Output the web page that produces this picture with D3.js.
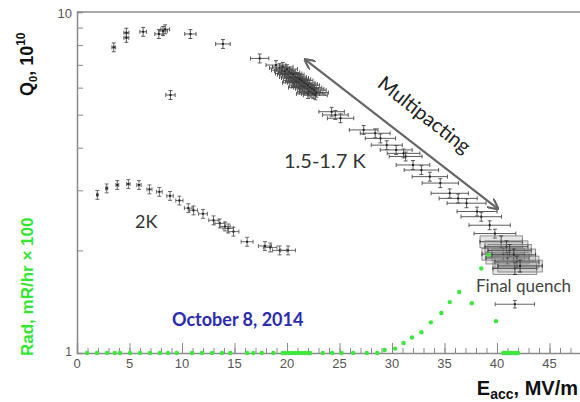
<!DOCTYPE html>
<html>
<head>
<meta charset="utf-8">
<script src="https://cdn.jsdelivr.net/npm/d3@7"></script>
<style>
  body { margin: 0; background: #fff; }
  svg { display: block; }
</style>
</head>
<body>
<div id="output"></div>
<script>
// 1.5-1.7 K run (E_acc in MV/m, Q0 in 1e10)
var coldE = [3.5, 4.7, 4.7, 6.3, 7.8, 8.2, 8.4, 10.8, 13.9, 8.9, 17.4, 18.95,
  19.3, 19.5, 19.6, 19.8, 19.9, 20.0, 20.1, 20.2, 20.3, 20.4, 20.5, 20.6, 20.6, 20.7, 20.8, 20.9,
  21.0, 21.1, 21.2, 21.2, 21.3, 21.4, 21.5, 21.6, 21.7, 21.8, 21.9, 22.0, 22.0, 22.1, 22.2,
  22.3, 22.4, 22.5, 22.6, 22.7, 22.8,
  24.25, 24.6, 25.1, 27.3, 28.4, 28.9, 29.5, 30.4, 31.1, 31.3, 32.0, 32.8, 33.6, 34.6,
  35.5, 36.3, 37.1, 38.1, 38.5, 39.3, 39.8];
var coldQ = [7.88, 8.7, 8.4, 8.75, 8.62, 8.8, 8.9, 8.62, 8.06, 5.71, 7.31, 6.99,
  6.85, 6.75, 6.9, 6.7, 6.6, 6.8, 6.55, 6.65, 6.45, 6.6, 6.4, 6.55, 6.2, 6.3, 6.45, 6.25,
  6.4, 6.2, 6.35, 6.0, 6.1, 6.3, 6.05, 6.2, 6.0, 6.15, 5.95, 6.1, 5.75, 5.85, 6.0,
  5.8, 5.95, 5.75, 5.9, 5.7, 5.8,
  5.10, 4.99, 4.88, 4.51, 4.41, 4.26, 4.07, 3.94, 3.85, 3.77, 3.56, 3.44, 3.29, 3.15,
  2.94, 2.84, 2.75, 2.60, 2.51, 2.37, 2.24];

// points near the quench (drawn with grey error boxes)
var quenchE = [40.4, 40.6, 40.9, 41.0, 41.2, 41.6, 41.9, 41.7, 42.2];
var quenchQ = [2.12, 1.95, 2.05, 1.90, 2.00, 1.94, 1.85, 1.77, 1.80];

// final quench point
var finalE = [41.7];
var finalQ = [1.39];

// 2 K run
var warmE = [1.94, 2.83, 3.84, 4.89, 5.9, 6.9, 7.84, 8.86, 9.75, 10.6, 11.1, 12.0, 13.0,
  13.6, 14.1, 14.4, 14.9, 16.2, 17.9, 18.4, 19.3, 20.1];
var warmQ = [2.91, 3.04, 3.11, 3.13, 3.11, 3.02, 2.97, 2.89, 2.80, 2.66, 2.62, 2.56, 2.45,
  2.40, 2.35, 2.32, 2.27, 2.12, 2.06, 2.04, 2.00, 2.00];

// radiation, mR/hr x 100
var radE = [0.95, 1.9, 2.86, 3.6, 4.1, 5.05, 6.0, 6.95, 7.9, 8.67, 9.5, 10.95, 11.9, 12.86,
  13.8, 14.6, 16.2, 16.8, 17.6, 18.7, 19.6, 19.9, 20.2, 20.5, 20.8, 21.1, 21.4, 21.7, 22.0,
  22.2, 23.4, 24.3, 25.2, 26.3, 27.6, 28.6,
  29.3, 30.3, 31.1, 31.9, 32.8, 33.7, 34.7, 35.5, 36.4, 37.6, 38.5, 39.2, 39.9,
  40.6, 40.8, 41.0, 41.2, 41.4, 41.6, 41.8, 42.0];
var radR = [1, 1, 1, 1, 1, 1, 1, 1, 1, 1, 1, 1, 1, 1,
  1, 1, 1, 1, 1, 1, 1, 1, 1, 1, 1, 1, 1, 1, 1,
  1, 1, 1, 1, 1, 1, 1,
  1.02, 1.03, 1.07, 1.11, 1.15, 1.23, 1.31, 1.41, 1.51, 1.40, 1.77, 1.94, 1.24,
  1, 1, 1, 1, 1, 1, 1, 1];

var xTicks = [0, 5, 10, 15, 20, 25, 30, 35, 40, 45];

var width = 580;
var height = 402;

var svg = d3.select('#output')
  .append('svg')
  .attr('width', width)
  .attr('height', height);

var x = d3.scaleLinear().domain([0, 48]).range([77, 581]);
var y = d3.scaleLog().domain([1, 10]).range([353, 12]);

var axisColor = '#8a8a8a';

// frame: top line
svg.append('line').attr('x1', x(0)).attr('x2', 580).attr('y1', y(10)).attr('y2', y(10))
  .attr('stroke', axisColor).attr('stroke-width', 1.5);

// y axis (log minor ticks inside)
var yAxis = d3.axisRight(y)
  .tickValues([2, 3, 4, 5, 6, 7, 8, 9])
  .tickSize(6)
  .tickFormat('');
var gy = svg.append('g').attr('transform', 'translate(' + x(0) + ',0)').call(yAxis);
gy.select('.domain').attr('stroke', axisColor).attr('stroke-width', 1.5);
gy.selectAll('.tick line').attr('stroke', axisColor);

// x axis: minor ticks then major ticks
var gxMinor = svg.append('g').attr('transform', 'translate(0,' + y(1) + ')')
  .call(d3.axisTop(x).tickValues(d3.range(0, 48)).tickSize(5).tickFormat(''));
gxMinor.select('.domain').remove();
gxMinor.selectAll('.tick line').attr('stroke', axisColor);

var gx = svg.append('g').attr('transform', 'translate(0,' + y(1) + ')')
  .call(d3.axisTop(x).tickValues(xTicks).tickSize(10).tickFormat(''));
gx.select('.domain').attr('stroke', axisColor).attr('stroke-width', 1.5);
gx.selectAll('.tick line').attr('stroke', axisColor);

svg.selectAll('.xlab')
  .data(xTicks)
  .enter()
  .append('text')
  .attr('x', (d) => x(d))
  .attr('y', y(1) + 15)
  .attr('text-anchor', 'middle')
  .attr('font-family', 'Liberation Sans, Arial, sans-serif')
  .attr('font-size', 13)
  .attr('fill', '#555')
  .text((d) => d);

svg.append('text').attr('x', 72).attr('y', y(10) + 6).attr('text-anchor', 'end')
  .attr('font-family', 'Liberation Sans, Arial, sans-serif').attr('font-size', 13).attr('fill', '#555')
  .text('10');
svg.append('text').attr('x', 72).attr('y', y(1) + 3).attr('text-anchor', 'end')
  .attr('font-family', 'Liberation Sans, Arial, sans-serif').attr('font-size', 12).attr('fill', '#555')
  .text('1');

// axis titles
var qTitle = svg.append('text')
  .attr('transform', 'translate(33,96) rotate(-90)')
  .attr('font-family', 'Liberation Sans, Arial, sans-serif')
  .attr('font-weight', 'bold')
  .attr('font-size', 18)
  .attr('fill', '#111');
qTitle.append('tspan').text('Q');
qTitle.append('tspan').attr('font-size', 11).attr('dy', 4).text('0');
qTitle.append('tspan').attr('dy', -4).text(', 10');
qTitle.append('tspan').attr('font-size', 12).attr('dy', -8).text('10');

svg.append('text')
  .attr('transform', 'translate(33,356) rotate(-90)')
  .attr('font-family', 'Liberation Sans, Arial, sans-serif')
  .attr('font-weight', 'bold')
  .attr('font-size', 17)
  .attr('fill', '#33e633')
  .text('Rad, mR/hr \u00d7 100');

var eTitle = svg.append('text')
  .attr('x', 578).attr('y', 395)
  .attr('text-anchor', 'end')
  .attr('font-family', 'Liberation Sans, Arial, sans-serif')
  .attr('font-weight', 'bold')
  .attr('font-size', 20)
  .attr('fill', '#111');
eTitle.append('tspan').text('E');
eTitle.append('tspan').attr('font-size', 14).attr('dy', 4).text('acc');
eTitle.append('tspan').attr('dy', -4).text(', MV/m');

// error-bar crosses
var relE = 0.05;
var relQ = 0.03;

function drawSeries(xs, qs, eFrac, qFrac, color, box) {
  var g = svg.append('g');
  var pts = xs.map((e, i) => ({e: e, q: qs[i]}));
  var sel = g.selectAll('g').data(pts).enter().append('g');
  if (box) {
    sel.append('rect')
      .attr('x', (d) => x(d.e * (1 - eFrac)))
      .attr('y', (d) => y(d.q * (1 + qFrac)))
      .attr('width', (d) => x(d.e * (1 + eFrac)) - x(d.e * (1 - eFrac)))
      .attr('height', (d) => y(d.q * (1 - qFrac)) - y(d.q * (1 + qFrac)))
      .attr('fill', '#999')
      .attr('fill-opacity', 0.25)
      .attr('stroke', '#777')
      .attr('stroke-width', 0.8);
  }
  sel.append('line')
    .attr('x1', (d) => x(d.e * (1 - eFrac))).attr('x2', (d) => x(d.e * (1 + eFrac)))
    .attr('y1', (d) => y(d.q)).attr('y2', (d) => y(d.q));
  sel.append('line')
    .attr('x1', (d) => x(d.e)).attr('x2', (d) => x(d.e))
    .attr('y1', (d) => y(d.q * (1 + qFrac))).attr('y2', (d) => y(d.q * (1 - qFrac)));
  // caps
  sel.append('line')
    .attr('x1', (d) => x(d.e * (1 - eFrac))).attr('x2', (d) => x(d.e * (1 - eFrac)))
    .attr('y1', (d) => y(d.q) - 2).attr('y2', (d) => y(d.q) + 2);
  sel.append('line')
    .attr('x1', (d) => x(d.e * (1 + eFrac))).attr('x2', (d) => x(d.e * (1 + eFrac)))
    .attr('y1', (d) => y(d.q) - 2).attr('y2', (d) => y(d.q) + 2);
  sel.append('line')
    .attr('x1', (d) => x(d.e) - 2).attr('x2', (d) => x(d.e) + 2)
    .attr('y1', (d) => y(d.q * (1 + qFrac))).attr('y2', (d) => y(d.q * (1 + qFrac)));
  sel.append('line')
    .attr('x1', (d) => x(d.e) - 2).attr('x2', (d) => x(d.e) + 2)
    .attr('y1', (d) => y(d.q * (1 - qFrac))).attr('y2', (d) => y(d.q * (1 - qFrac)));
  sel.selectAll('line').attr('stroke', color).attr('stroke-width', 0.9);
  sel.append('rect')
    .attr('x', (d) => x(d.e) - 1).attr('y', (d) => y(d.q) - 1)
    .attr('width', 2).attr('height', 2)
    .attr('fill', '#222');
}

drawSeries(warmE, warmQ, 0.035, relQ, '#5a5a5a', false);
drawSeries(coldE, coldQ, relE, relQ, '#4a4a4a', false);
drawSeries(quenchE, quenchQ, relE, 0.04, '#333', true);
drawSeries(finalE, finalQ, 0.045, 0.025, '#555', false);

// radiation dots
svg.selectAll('.rad')
  .data(radE.map((e, i) => ({e: e, r: radR[i]})))
  .enter()
  .append('circle')
  .attr('cx', (d) => x(d.e))
  .attr('cy', (d) => y(d.r))
  .attr('r', 2.2)
  .attr('fill', '#3de83d');

// multipacting arrow
var defs = svg.append('defs');
defs.append('marker')
  .attr('id', 'head')
  .attr('viewBox', '0 0 10 10')
  .attr('refX', 8).attr('refY', 5)
  .attr('markerWidth', 5).attr('markerHeight', 5)
  .attr('orient', 'auto-start-reverse')
  .append('path')
  .attr('d', 'M0,0 L10,5 L0,10')
  .attr('fill', 'none')
  .attr('stroke', '#666')
  .attr('stroke-width', 2);

var arrowE = [21.8, 40.0];
var arrowQ = [7.22, 2.66];
svg.append('line')
  .attr('x1', x(arrowE[0])).attr('y1', y(arrowQ[0]))
  .attr('x2', x(arrowE[1])).attr('y2', y(arrowQ[1]))
  .attr('stroke', '#666')
  .attr('stroke-width', 2.2)
  .attr('marker-start', 'url(#head)')
  .attr('marker-end', 'url(#head)');

// annotations
var noteFont = 'Lato, Open Sans, sans-serif';
svg.append('text')
  .attr('transform', 'translate(425,114) rotate(38)')
  .attr('text-anchor', 'middle')
  .attr('dominant-baseline', 'central')
  .attr('font-family', noteFont)
  .attr('font-size', 20)
  .attr('fill', '#222')
  .text('Multipacting');

svg.append('text').attr('x', 284).attr('y', 168)
  .attr('font-family', noteFont).attr('font-size', 20).attr('fill', '#333')
  .text('1.5-1.7 K');

svg.append('text').attr('x', 135).attr('y', 228)
  .attr('font-family', noteFont).attr('font-size', 18).attr('fill', '#333')
  .text('2K');

svg.append('text').attr('x', 476).attr('y', 292)
  .attr('font-family', noteFont).attr('font-size', 17).attr('fill', '#444')
  .text('Final quench');

svg.append('text').attr('x', 172).attr('y', 326)
  .attr('font-family', noteFont).attr('font-weight', 'bold').attr('font-size', 18).attr('fill', '#2b2bb0')
  .text('October 8, 2014');
</script>
</body>
</html>
